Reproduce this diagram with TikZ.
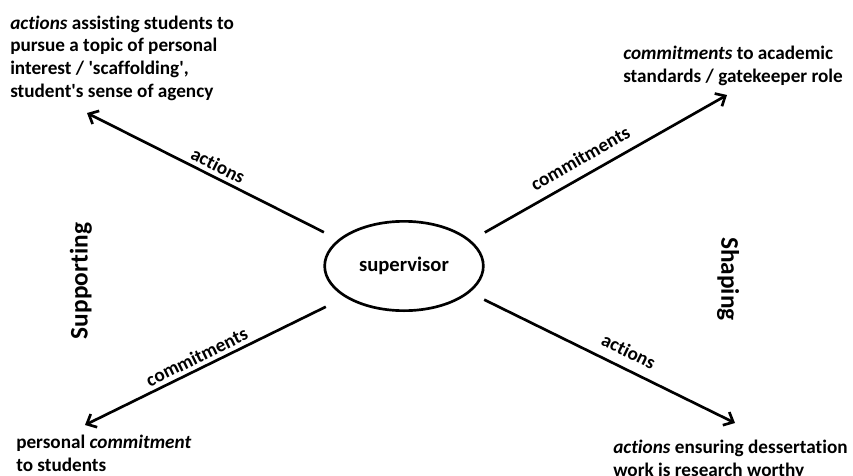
\documentclass[tikz,border=0pt]{standalone}
\usepackage{fontspec}
\setmainfont{Carlito}[Ligatures={NoCommon}]
\usetikzlibrary{arrows.meta,shapes.geometric}

\begin{document}
\begin{tikzpicture}
	 [scale =1]
	 \tikzset{font=\bfseries\fontsize{14.4}{17}\selectfont}
	\tikzstyle{hub}=[ellipse,draw=black,line width=2pt,minimum width=119pt,minimum height=67pt,inner sep=0pt,font=\bfseries\fontsize{15.5}{18}\selectfont]
	\tikzstyle{spoke}=[-{Straight Barb[length=6pt,width=11pt]},line width=2pt,shorten <=12pt]
	\tikzstyle{note}=[align=left,inner sep=0pt,anchor=base west]
	\tikzstyle{side}=[font=\bfseries\fontsize{19}{23}\selectfont,inner sep=0pt]
	\tikzstyle{tag}=[sloped,above=3pt,inner sep=0pt]
	\useasboundingbox (0 pt,0 pt) rectangle (639.75 pt,-356.25 pt);
	\node [hub] (sup) at (303.0 pt,-199.5 pt) {supervisor};
	\coordinate (ul) at (65.25 pt,-84.75 pt);
	\coordinate (ur) at (545.25 pt,-71.25 pt);
	\coordinate (ll) at (63.75 pt,-318.75 pt);
	\coordinate (lr) at (551.25 pt,-317.25 pt);
	\node [note] (n1) at (7.5 pt,-72.75 pt) {\textit{actions} assisting students to\\pursue a topic of personal\\interest / \textquotesingle scaffolding\textquotesingle,\\student\textquotesingle s sense of agency};
	\node [note] (n2) at (467.25 pt,-61.5 pt) {\textit{commitments} to academic\\standards / gatekeeper role};
	\node [note] (n3) at (12.0 pt,-353.25 pt) {personal \textit{commitment}\\to students};
	\node [note] (n4) at (459.75 pt,-357.0 pt) {\textit{actions} ensuring dessertation\\work is research worthy};
	\node [side,rotate=90] (s1) at (60.75 pt,-210.75 pt) {Supporting};
	\node [side,rotate=-90] (s2) at (546.0 pt,-209.25 pt) {Shaping};
	\draw [spoke] (sup.158) -- node [tag,pos=0.5] {actions} (ul);
	\draw [spoke] (sup.21) -- node [tag,pos=0.46,above=4pt] {commitments} (ur);
	\draw [spoke,shorten <=16pt] (sup.208) -- node [tag,pos=0.55] {commitments} (ll);
	\draw [spoke] (sup.338) -- node [tag,pos=0.57,above=4pt] {actions} (lr);
	\end{tikzpicture}
\end{document}
